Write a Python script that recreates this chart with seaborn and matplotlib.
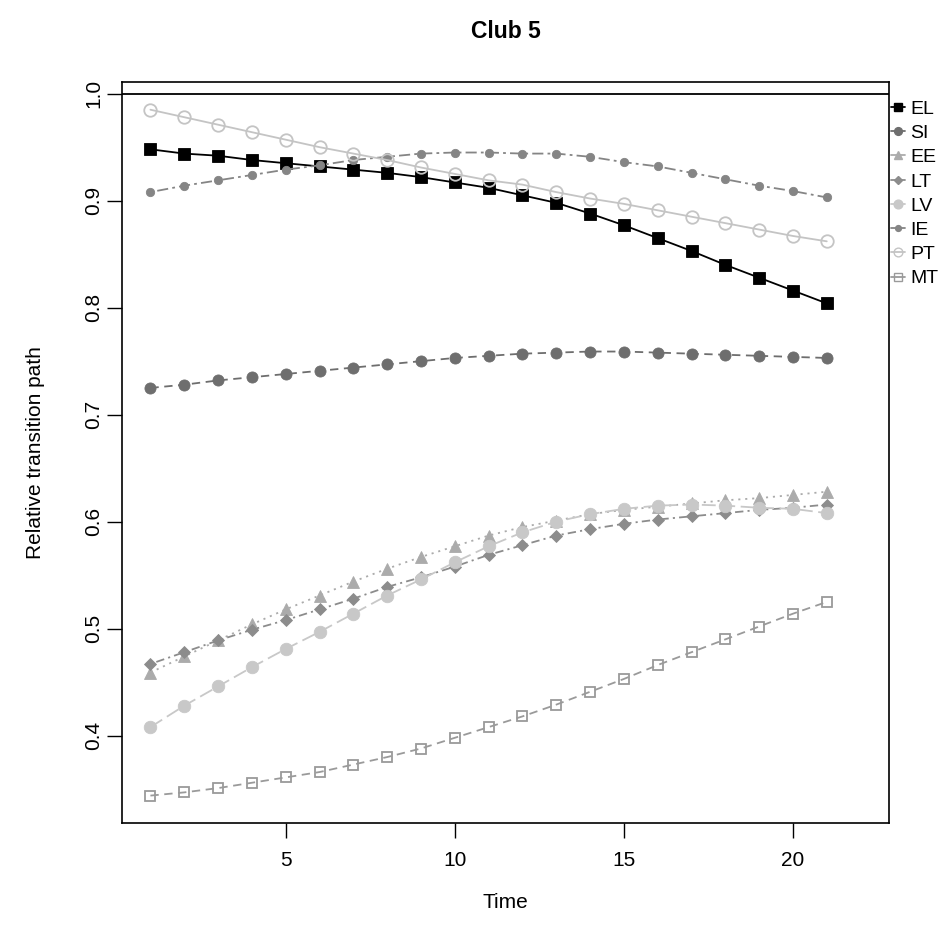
import matplotlib
matplotlib.use("Agg")
import matplotlib.pyplot as plt
import seaborn as sns
from matplotlib.lines import Line2D

# ---------------- data ----------------
time = list(range(1, 22))

series_names = ["EL", "SI", "EE", "LT", "LV", "IE", "PT", "MT"]

el = [0.948, 0.944, 0.942, 0.938, 0.935, 0.932, 0.929, 0.926, 0.922, 0.917, 0.912,
      0.905, 0.898, 0.888, 0.877, 0.865, 0.853, 0.840, 0.828, 0.816, 0.804]
si = [0.725, 0.728, 0.732, 0.735, 0.738, 0.741, 0.744, 0.747, 0.750, 0.753, 0.755,
      0.757, 0.758, 0.759, 0.759, 0.758, 0.757, 0.756, 0.755, 0.754, 0.753]
ee = [0.459, 0.474, 0.489, 0.504, 0.518, 0.531, 0.544, 0.556, 0.567, 0.577, 0.587,
      0.595, 0.601, 0.607, 0.611, 0.614, 0.617, 0.620, 0.622, 0.625, 0.628]
lt = [0.467, 0.478, 0.489, 0.499, 0.508, 0.518, 0.528, 0.539, 0.548, 0.558, 0.569,
      0.578, 0.587, 0.593, 0.598, 0.602, 0.605, 0.608, 0.611, 0.613, 0.616]
lv = [0.408, 0.428, 0.446, 0.464, 0.481, 0.497, 0.514, 0.531, 0.546, 0.562, 0.577,
      0.590, 0.600, 0.607, 0.612, 0.615, 0.616, 0.615, 0.613, 0.612, 0.608]
ie = [0.908, 0.914, 0.919, 0.924, 0.929, 0.933, 0.938, 0.941, 0.944, 0.945, 0.945,
      0.944, 0.944, 0.941, 0.936, 0.932, 0.926, 0.920, 0.914, 0.909, 0.903]
pt = [0.985, 0.978, 0.971, 0.964, 0.957, 0.950, 0.944, 0.938, 0.931, 0.925, 0.919,
      0.915, 0.908, 0.902, 0.897, 0.891, 0.885, 0.879, 0.873, 0.867, 0.862]
mt = [0.344, 0.347, 0.351, 0.356, 0.361, 0.366, 0.373, 0.380, 0.388, 0.398, 0.408,
      0.418, 0.429, 0.441, 0.453, 0.466, 0.478, 0.490, 0.502, 0.514, 0.525]

values = [el, si, ee, lt, lv, ie, pt, mt]

# ---------------- styles ----------------
styles = {
    "EL": dict(color="#000000", marker="s", ms=8.5, ls="-", filled=True),
    "SI": dict(color="#6e6e6e", marker="o", ms=8.0, ls=(0, (6, 4)), filled=True),
    "EE": dict(color="#ababab", marker="^", ms=9.0, ls=(0, (1.5, 3.5)), filled=True),
    "LT": dict(color="#8c8c8c", marker="D", ms=6.5, ls=(0, (1.5, 3, 6, 3)), filled=True),
    "LV": dict(color="#c8c8c8", marker="o", ms=9.0, ls=(0, (10, 4)), filled=True),
    "IE": dict(color="#858585", marker="o", ms=6.0, ls=(0, (2, 3, 8, 3)), filled=True),
    "PT": dict(color="#c4c4c4", marker="o", ms=9.0, ls="-", filled=False),
    "MT": dict(color="#9a9a9a", marker="s", ms=7.5, ls=(0, (6, 4)), filled=False),
}

sns.set_style("white")
plt.rcParams["font.family"] = ["Liberation Sans", "DejaVu Sans"]
plt.rcParams["lines.scale_dashes"] = False
plt.rcParams["text.color"] = "black"
plt.rcParams["axes.labelcolor"] = "black"
plt.rcParams["xtick.color"] = "black"
plt.rcParams["ytick.color"] = "black"

fig = plt.figure(figsize=(9.51, 9.35), dpi=100)
ax = fig.add_axes([0.1283, 0.1198, 0.8065, 0.7925])

handles = []
for name, vals in zip(series_names, values):
    st = styles[name]
    face = st["color"] if st["filled"] else "none"
    sns.lineplot(x=time, y=vals, ax=ax, color=st["color"], linestyle=st["ls"],
                 linewidth=1.3, marker=st["marker"], markersize=st["ms"],
                 markerfacecolor=face, markeredgecolor=st["color"],
                 markeredgewidth=1.3 if not st["filled"] else 0.6,
                 legend=False)
    handles.append(Line2D([0], [0], color=st["color"], linestyle="-", linewidth=1.3,
                          marker=st["marker"], markersize=st["ms"] * 0.7,
                          markerfacecolor=face, markeredgecolor=st["color"],
                          label=name))

ax.axhline(1.0, color="black", linewidth=1.3)

ax.set_xlim(0.16, 22.84)
ax.set_ylim(0.3184, 1.0109)
ax.set_xticks([5, 10, 15, 20])
ax.set_yticks([0.4, 0.5, 0.6, 0.7, 0.8, 0.9, 1.0])
ax.set_yticklabels(["0.4", "0.5", "0.6", "0.7", "0.8", "0.9", "1.0"],
                   rotation=90, va="center")
ax.tick_params(axis="both", direction="out", length=10.5, width=1.0,
               labelsize=15, color="black", left=True, bottom=True)
ax.tick_params(axis="x", pad=10)
ax.tick_params(axis="y", pad=3)

for sp in ax.spines.values():
    sp.set_color("black")
    sp.set_linewidth(1.2)

ax.set_xlabel("Time", fontsize=15, labelpad=16)
ax.set_ylabel("Relative transition path", fontsize=15, labelpad=28)
ax.set_title("Club 5", fontsize=16.5, fontweight="bold", pad=32)

leg = ax.legend(handles=handles, loc="upper left", bbox_to_anchor=(1.0, 0.978),
                frameon=False, fontsize=14, handlelength=0.7, handletextpad=0.3,
                labelspacing=0.34, borderaxespad=0.1, borderpad=0.0)

fig.savefig("out.png", dpi=100)
